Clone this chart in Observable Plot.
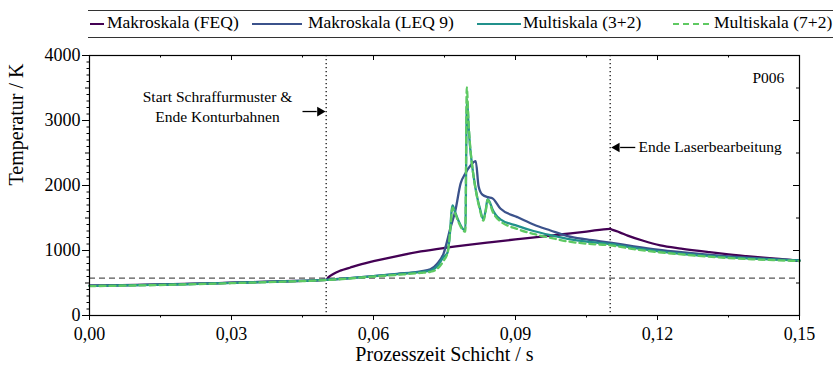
<!DOCTYPE html>
<html>
<head>
<meta charset="utf-8">
<script src="https://cdn.jsdelivr.net/npm/d3@7"></script>
<script src="https://cdn.jsdelivr.net/npm/@observablehq/plot@0.6"></script>
<style>
  body { margin: 0; background: white; font-family: "Liberation Serif", "Times New Roman", serif; }
  #wrap { width: 837px; }
  #legend { position: relative; width: 837px; height: 44px; font-size: 17.5px; color: black; }
  #legend .box { position: absolute; left: 88px; width: 745px; top: 10px; height: 26px;
                 border-top: 1.5px solid #333; border-bottom: 1.5px solid #333; }
  #legend .sw { position: absolute; top: 23px; height: 0; }
  #legend .lb { position: absolute; top: 23px; transform: translateY(-50%); white-space: nowrap; line-height: 1; }
</style>
</head>
<body>
<div id="wrap">
  <div id="legend"></div>
  <div id="chart"></div>
</div>
<script>
// Series names and colours
const seriesNames = ["Makroskala (FEQ)", "Makroskala (LEQ 9)", "Multiskala (3+2)", "Multiskala (7+2)"];
const seriesColors = ["#440154", "#3b528b", "#21918c", "#5ec962"];

// Makroskala (FEQ)
const feqTime = [0, 0.01, 0.02, 0.03, 0.04, 0.05, 0.0505, 0.0515, 0.053, 0.055, 0.0575, 0.06, 0.065, 0.07, 0.075, 0.08, 0.085, 0.09, 0.095, 0.1, 0.105, 0.11, 0.1105, 0.112, 0.1137, 0.117, 0.1206, 0.125, 0.131, 0.135, 0.14, 0.145, 0.149, 0.15];
const feqTemp = [460, 470, 485, 505, 525, 549, 590, 640, 690, 735, 790, 835, 915, 985, 1040, 1088, 1130, 1170, 1210, 1250, 1290, 1333, 1318, 1280, 1230, 1150, 1080, 1030, 974, 940, 905, 875, 846, 840];

// Makroskala (LEQ 9)
const leqTime = [0, 0.01, 0.02, 0.03, 0.04, 0.05, 0.055, 0.06, 0.065, 0.07, 0.072, 0.0735, 0.0748, 0.0763, 0.0773, 0.0784, 0.0794, 0.0805, 0.0816, 0.0822, 0.083, 0.0842, 0.0851, 0.0868, 0.0904, 0.0938, 0.0974, 0.101, 0.105, 0.11, 0.115, 0.12, 0.125, 0.13, 0.135, 0.14, 0.145, 0.15];
const leqTemp = [458, 468, 483, 503, 524, 549, 575, 605, 640, 680, 710, 800, 953, 1359, 1615, 2030, 2185, 2308, 2374, 1990, 1860, 1820, 1805, 1646, 1513, 1400, 1308, 1221, 1170, 1120, 1065, 1015, 975, 940, 910, 885, 865, 848];

// Multiskala (3+2)
const ms32Time = [0, 0.01, 0.02, 0.03, 0.04, 0.05, 0.06, 0.065, 0.07, 0.072, 0.0735, 0.0748, 0.0756, 0.076, 0.0767, 0.0772, 0.078, 0.0789, 0.0794, 0.07975, 0.0801, 0.0804, 0.0808, 0.0813, 0.0818, 0.0825, 0.0832, 0.0837, 0.0841, 0.0846, 0.0851, 0.0858, 0.0868, 0.0904, 0.0938, 0.0974, 0.101, 0.105, 0.11, 0.115, 0.12, 0.125, 0.13, 0.135, 0.14, 0.145, 0.15];
const ms32Temp = [456, 466, 481, 501, 522, 549, 605, 635, 670, 690, 760, 900, 960, 1150, 1692, 1600, 1450, 1330, 1310, 3330, 2900, 2600, 2330, 2070, 1860, 1640, 1480, 1620, 1790, 1740, 1640, 1550, 1480, 1380, 1300, 1235, 1180, 1135, 1100, 1040, 990, 950, 920, 895, 875, 860, 848];

// Multiskala (7+2)
const ms72Time = [0, 0.01, 0.02, 0.03, 0.04, 0.05, 0.06, 0.065, 0.07, 0.072, 0.0735, 0.0748, 0.0757, 0.0762, 0.0767, 0.0772, 0.078, 0.0789, 0.0794, 0.0797, 0.0801, 0.0804, 0.0808, 0.0813, 0.0818, 0.0825, 0.0832, 0.0837, 0.0841, 0.0846, 0.0851, 0.0858, 0.0868, 0.0904, 0.0938, 0.0974, 0.101, 0.105, 0.11, 0.115, 0.12, 0.125, 0.13, 0.135, 0.14, 0.145, 0.15];
const ms72Temp = [452, 462, 477, 497, 518, 545, 598, 625, 655, 672, 720, 840, 975, 1300, 1660, 1580, 1430, 1310, 1290, 3510, 2950, 2620, 2330, 2060, 1850, 1620, 1460, 1600, 1780, 1720, 1610, 1520, 1450, 1330, 1255, 1195, 1140, 1105, 1080, 1020, 975, 940, 910, 885, 865, 850, 838];

// Axis ticks
const xMajorTicks = [0, 0.03, 0.06, 0.09, 0.12, 0.15];
const xMinorTicks = [0.015, 0.045, 0.075, 0.105, 0.135];
const yMajorTicks = [0, 1000, 2000, 3000, 4000];
const yHalfTicks = [500, 1500, 2500, 3500];
const yRulerTicks = d3.range(100, 4000, 100).filter(v => v % 500 !== 0);

// Reference lines: solidus temperature and process events
const solidusTemp = [575];
const eventTimes = [0.05, 0.11];

// Annotations
const noteStart = [{t: 0.02704, T: 3231, text: "Start Schraffurmuster &\nEnde Konturbahnen"}];
const noteEnd = [{t: 0.1160, T: 2585, text: "Ende Laserbearbeitung"}];
const noteSample = [{t: 0.1468, T: 3646, text: "P006"}];
const arrowShafts = [
  {t1: 0.0450, t2: 0.0480, T: 3138},
  {t1: 0.1153, t2: 0.1121, T: 2585}
];
const arrowHeads = [
  {t: 0.0487, T: 3138, dir: 90},
  {t: 0.1114, T: 2585, dir: -90}
];

const fmtX = d => d.toFixed(2).replace(".", ",");
const fmtY = d => String(d);
const toRows = (ts, vs) => ts.map((t, i) => ({t, T: vs[i]}));
const seriesRows = [
  toRows(feqTime, feqTemp),
  toRows(leqTime, leqTemp),
  toRows(ms32Time, ms32Temp),
  toRows(ms72Time, ms72Temp)
];

const W = 837, H = 327, mT = 11, mR = 38, mB = 56, mL = 89;
const innerW = W - mL - mR, innerH = H - mT - mB;

const chart = Plot.plot({
  width: W, height: H,
  marginTop: mT, marginRight: mR, marginBottom: mB, marginLeft: mL,
  style: {fontFamily: "'Liberation Serif', 'Times New Roman', serif", fontSize: "18px", color: "black", background: "white"},
  x: {domain: [0, 0.15], axis: null},
  y: {domain: [0, 4000], axis: null},
  marks: [
    Plot.ruleY(solidusTemp, {stroke: "#555", strokeWidth: 1.2, strokeDasharray: "6,4"}),
    Plot.ruleX(eventTimes, {stroke: "black", strokeWidth: 1.2, strokeDasharray: "1.2,2.8"}),
    ...seriesRows.map((rows, i) => Plot.line(rows, {
      x: "t", y: "T", stroke: seriesColors[i], strokeWidth: 2.3, curve: "monotone-x",
      strokeDasharray: i === 3 ? "6,4" : null
    })),
    // bottom axis
    Plot.axisX(xMajorTicks, {anchor: "bottom", tickSize: 5, tickPadding: 7, tickFormat: fmtX, label: null, fontSize: 18}),
    Plot.axisX(xMinorTicks, {anchor: "bottom", tickSize: 2.5, tickFormat: () => "", label: null}),
    // left axis
    Plot.axisY(yMajorTicks, {anchor: "left", tickSize: 7, tickPadding: 2, tickFormat: fmtY, label: null, fontSize: 18}),
    Plot.axisY(yHalfTicks, {anchor: "left", tickSize: 4, tickFormat: () => "", label: null}),
    Plot.axisY(yRulerTicks, {anchor: "left", tickSize: 2.5, tickFormat: () => "", label: null}),
    // mirrored inward ticks on top and right
    Plot.tickX(xMajorTicks, {x: d => d, insetBottom: innerH - 5, stroke: "black"}),
    Plot.tickX(xMinorTicks, {x: d => d, insetBottom: innerH - 2.5, stroke: "black"}),
    Plot.tickY(yMajorTicks, {y: d => d, insetLeft: innerW - 6, stroke: "black"}),
    Plot.tickY(yHalfTicks, {y: d => d, insetLeft: innerW - 3, stroke: "black"}),
    Plot.frame({stroke: "black", strokeWidth: 1.2}),
    // axis titles
    Plot.text(["Temperatur / K"], {frameAnchor: "left", dx: -73, rotate: -90, fontSize: 20, text: d => d}),
    Plot.text(["Prozesszeit Schicht / s"], {frameAnchor: "bottom", dy: 45, fontSize: 20, text: d => d}),
    // annotations
    Plot.text(noteStart, {x: "t", y: "T", text: "text", textAnchor: "middle", fontSize: 15.5, lineHeight: 1.3}),
    Plot.text(noteEnd, {x: "t", y: "T", text: "text", textAnchor: "start", fontSize: 15.5}),
    Plot.text(noteSample, {x: "t", y: "T", text: "text", textAnchor: "end", fontSize: 15.5}),
    Plot.link(arrowShafts, {x1: "t1", x2: "t2", y1: "T", y2: "T", stroke: "black", strokeWidth: 1.3}),
    Plot.dot(arrowHeads, {x: "t", y: "T", symbol: "triangle", r: 3.6, rotate: "dir", fill: "black", stroke: "none"})
  ]
});
document.getElementById("chart").appendChild(chart);

// Legend above the chart
const legend = document.getElementById("legend");
const box = document.createElement("div");
box.className = "box";
legend.appendChild(box);
const swatchSpans = [[90, 104], [252, 302], [477, 521], [673, 709]];
const labelLefts = [107, 308, 523, 714];
seriesNames.forEach((name, i) => {
  const sw = document.createElement("div");
  sw.className = "sw";
  sw.style.left = swatchSpans[i][0] + "px";
  sw.style.width = (swatchSpans[i][1] - swatchSpans[i][0]) + "px";
  sw.style.borderTop = `2.4px ${i === 3 ? "dashed" : "solid"} ${seriesColors[i]}`;
  legend.appendChild(sw);
  const lb = document.createElement("div");
  lb.className = "lb";
  lb.style.left = labelLefts[i] + "px";
  lb.textContent = name;
  legend.appendChild(lb);
});
</script>
</body>
</html>
